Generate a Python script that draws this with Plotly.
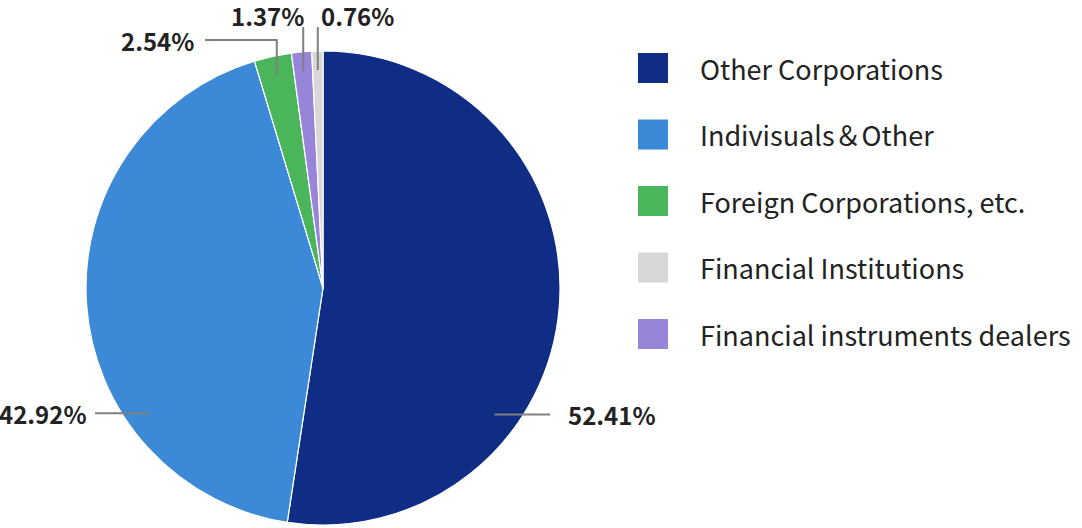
import math

import plotly.graph_objects as go

# slices in drawing order (clockwise from 12 o'clock)
labels = ["Other Corporations", "Indivisuals＆Other", "Foreign Corporations, etc.",
          "Financial instruments dealers", "Financial Institutions"]
values = [52.41, 42.92, 2.54, 1.37, 0.76]
colors = ["#0f2d84", "#3b89d7", "#4bb55b", "#9884d9", "#d7d7d7"]

# legend order as shown on the right
legend_order = ["Other Corporations", "Indivisuals＆Other", "Foreign Corporations, etc.",
                "Financial Institutions", "Financial instruments dealers"]

W, H = 1082, 528
CX, CY, R = 323, 288, 237  # pie centre / radius in pixels
FONT = "Noto Sans CJK JP, Noto Sans, sans-serif"
LINE = "#808080"


def px(x):
    return x / W


def py(y):
    return (H - y) / H


fig = go.Figure(go.Pie(
    labels=labels,
    values=values,
    sort=False,
    direction="clockwise",
    rotation=0,
    marker=dict(colors=colors, line=dict(color="white", width=1.2)),
    textinfo="none",
    hoverinfo="label+percent",
    showlegend=False,
    domain=dict(x=[px(CX - R), px(CX + R)], y=[py(CY + R), py(CY - R)]),
))

# label anchors: mid angle of each slice, big slices pulled down like the original
angle_override = {"Other Corporations": 126.4, "Indivisuals＆Other": 234.0}
total = sum(values)
start = 0.0
anchors = {}
for lab, v in zip(labels, values):
    ang = angle_override.get(lab, start + v / total * 180.0)
    frac = 0.9 if lab in angle_override else 0.92
    a = math.radians(ang)
    anchors[lab] = (CX + frac * R * math.sin(a), CY - frac * R * math.cos(a))
    start += v / total * 360.0

shapes = []
annotations = []


def seg(points):
    path = "M " + " L ".join(f"{px(x)},{py(y)}" for x, y in points)
    shapes.append(dict(type="path", path=path, xref="paper", yref="paper",
                       line=dict(color=LINE, width=2)))


def text(s, x, y, anchor):
    annotations.append(dict(text=f"<b>{s}</b>", x=px(x), y=py(y), xref="paper", yref="paper",
                            xanchor=anchor, yanchor="middle", showarrow=False,
                            font=dict(family=FONT, size=24, color="#222222")))


pct = {lab: f"{v:.2f}%" for lab, v in zip(labels, values)}

ax, ay = anchors["Other Corporations"]
seg([(ax, ay), (550, ay)])
text(pct["Other Corporations"], 566, ay, "left")

ax, ay = anchors["Indivisuals＆Other"]
seg([(ax, ay), (95, ay)])
text(pct["Indivisuals＆Other"], 89, ay, "right")

ax, ay = anchors["Foreign Corporations, etc."]
seg([(ax, ay), (ax, 40), (205, 40)])
text(pct["Foreign Corporations, etc."], 196, 40, "right")

ax, ay = anchors["Financial instruments dealers"]
seg([(ax, ay), (ax, 27)])
text(pct["Financial instruments dealers"], ax + 3, 15, "right")

ax, ay = anchors["Financial Institutions"]
seg([(ax, ay), (ax, 27)])
text(pct["Financial Institutions"], ax + 1, 15, "left")

# legend with big square swatches
color_of = dict(zip(labels, colors))
for i, lab in enumerate(legend_order):
    yc = 68 + i * 66.5
    shapes.append(dict(type="rect", xref="paper", yref="paper",
                       x0=px(638), x1=px(668), y0=py(yc + 15), y1=py(yc - 15),
                       fillcolor=color_of[lab], line=dict(width=0)))
    annotations.append(dict(text=lab, x=px(698), y=py(yc), xref="paper", yref="paper",
                            xanchor="left", yanchor="middle", showarrow=False,
                            font=dict(family=FONT, size=27, color="#222222")))

fig.update_layout(
    width=W,
    height=H,
    margin=dict(l=0, r=0, t=0, b=0),
    paper_bgcolor="white",
    plot_bgcolor="white",
    shapes=shapes,
    annotations=annotations,
)

# page body has an 8px default margin; drop it so the figure fills the window
fig.write_html("out.html", config={"displayModeBar": False},
               post_script="document.body.style.margin='0';")
